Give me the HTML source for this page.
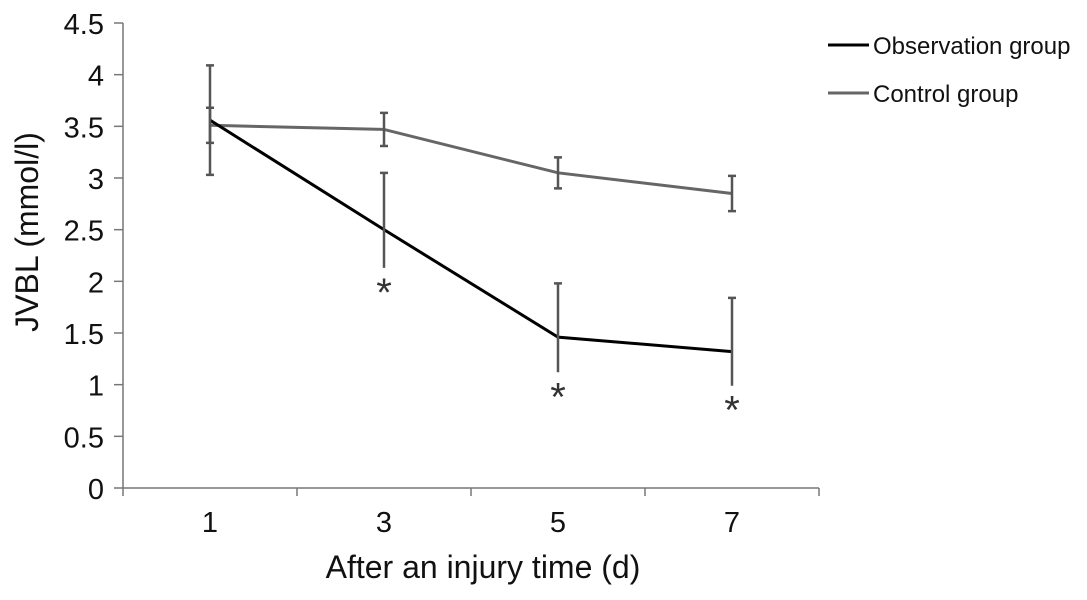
<!DOCTYPE html>
<html><head><meta charset="utf-8"><style>
body{margin:0;background:#fff;}
svg text{font-family:"Liberation Sans",sans-serif;}
</style></head><body>
<svg id="chart" width="1087" height="595" viewBox="0 0 1087 595" xmlns="http://www.w3.org/2000/svg">
<g id="axes"></g>
<g id="series"></g>
<text transform="translate(38,232) rotate(-90)" text-anchor="middle" font-size="32" fill="#111">JVBL (mmol/l)</text>
<text x="483" y="578" text-anchor="middle" font-size="32" fill="#111">After an injury time (d)</text>
<g>
<line x1="828" y1="45" x2="869" y2="45" stroke="#000" stroke-width="3"/>
<text x="873" y="54" font-size="24" fill="#111">Observation group</text>
<line x1="828" y1="93" x2="869" y2="93" stroke="#666" stroke-width="3"/>
<text x="873" y="102" font-size="24" fill="#111">Control group</text>
</g>
</svg>
<script>
const categories=["1","3","5","7"];
const observation=[3.56,2.5,1.46,1.32];
const observationErrUp=[0.53,0.55,0.52,0.52];
const observationErrDown=[0.53,0.37,0.34,0.33];
const control=[3.51,3.47,3.05,2.85];
const controlErr=[0.17,0.16,0.15,0.17];
const significant=[false,true,true,true];
const yTicks=[0,0.5,1,1.5,2,2.5,3,3.5,4,4.5];
const NS="http://www.w3.org/2000/svg";
const x0=123,x1=819,y0=488,yTop=23,yMax=4.5;
function xs(i){return x0+(i+0.5)*(x1-x0)/categories.length;}
function ys(v){return y0-(v/yMax)*(y0-yTop);}
function mk(tag,attrs,parent){const e=document.createElementNS(NS,tag);for(const k in attrs)e.setAttribute(k,attrs[k]);parent.appendChild(e);return e;}
const axes=document.getElementById('axes'),series=document.getElementById('series');
let a=mk('line',{x1:x0,y1:yTop,x2:x0,y2:y0,stroke:'#777','stroke-width':1.5},axes);


a=mk('line',{x1:x0,y1:y0,x2:x1,y2:y0,stroke:'#777','stroke-width':1.5},axes);


yTicks.forEach(v=>{
 const t=mk('line',{x1:x0-9,y1:ys(v),x2:x0,y2:ys(v),stroke:'#777','stroke-width':1.5},axes);
 
 
 const l=mk('text',{x:x0-19,y:ys(v)+11,'text-anchor':'end','font-size':29,fill:'#111'},axes);
 l.textContent=String(v);
 
 
});
for(let i=0;i<=categories.length;i++){
 const xx=x0+i*(x1-x0)/categories.length;
 const t=mk('line',{x1:xx,y1:y0,x2:xx,y2:y0+8,stroke:'#777','stroke-width':1.5},axes);
 
 
}
categories.forEach((c,i)=>{
 const l=mk('text',{x:xs(i),y:y0+44,'text-anchor':'middle','font-size':29,fill:'#111'},axes);
 l.textContent=c;
 
 
});
function drawSeries(vals,up,down,color,name,noLowCap){
 const p=mk('polyline',{points:vals.map((v,i)=>xs(i)+','+ys(v)).join(' '),fill:'none',stroke:color,'stroke-width':3},series);
 
 
 vals.forEach((v,i)=>{
  const x=xs(i),t=ys(v+up[i]),b=ys(v-down[i]);
  let d=`M${x},${t}V${b}M${x-4},${t}H${x+4}`;
  if(!noLowCap[i])d+=`M${x-4},${b}H${x+4}`;
  const g=mk('path',{d:d,stroke:'#555','stroke-width':2.5,fill:'none'},series);
  
  
 });
}
drawSeries(control,controlErr,controlErr,'#666','control',[false,false,false,false]);
drawSeries(observation,observationErrUp,observationErrDown,'#000','observation',significant);
significant.forEach((s,i)=>{
 if(!s)return;
 const t=mk('text',{x:xs(i),y:ys(observation[i]-observationErrDown[i])+38,'text-anchor':'middle','font-size':40,fill:'#333'},series);
 t.textContent='*';
 
 
});
</script>
</body></html>
